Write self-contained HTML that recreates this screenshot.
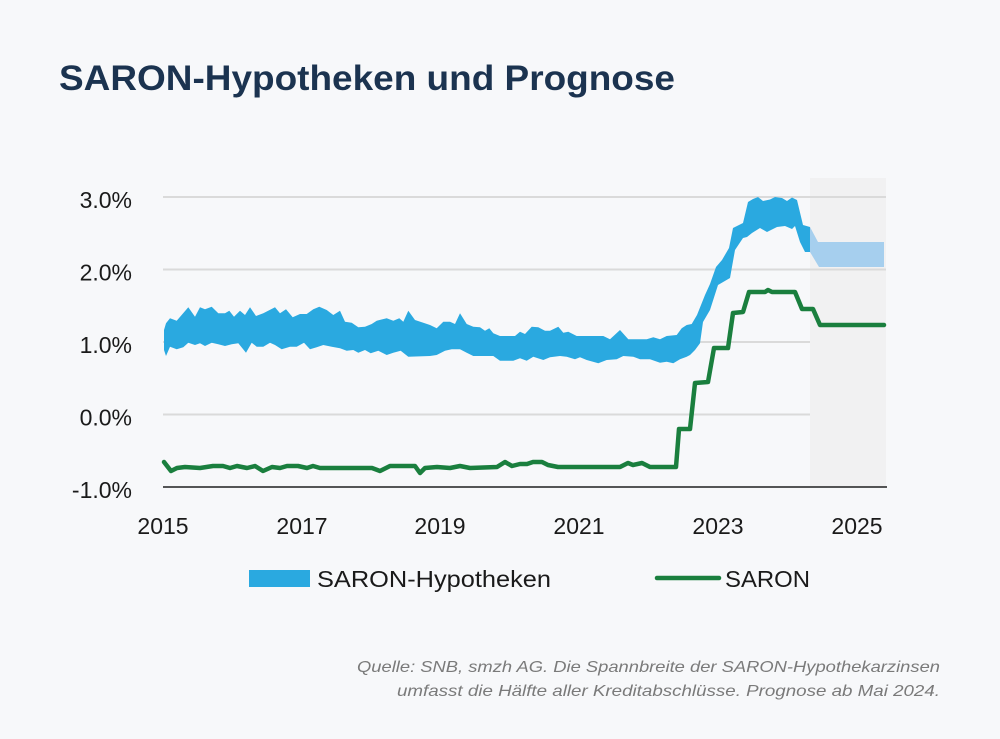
<!DOCTYPE html>
<html><head><meta charset="utf-8"><style>
html,body{margin:0;padding:0;background:#f7f8fa;}
svg{display:block;}
</style></head><body>
<svg width="1000" height="739" viewBox="0 0 1000 739" xmlns="http://www.w3.org/2000/svg">
<rect x="0" y="0" width="1000" height="739" fill="#f7f8fa"/>
<text x="59" y="90" font-family="Liberation Sans, sans-serif" font-size="35" font-weight="bold" fill="#1b3350" textLength="616" lengthAdjust="spacingAndGlyphs">SARON-Hypotheken und Prognose</text>

<!-- forecast shading -->
<rect x="810" y="178" width="76" height="309" fill="#f1f1f2"/>

<!-- gridlines -->
<g stroke="#dadada" stroke-width="2">
<line x1="163" y1="197" x2="886" y2="197"/>
<line x1="163" y1="269.5" x2="886" y2="269.5"/>
<line x1="163" y1="342" x2="810" y2="342"/>
<line x1="163" y1="414.5" x2="810" y2="414.5"/>
</g>

<!-- y labels -->
<g font-family="Liberation Sans, sans-serif" font-size="23" fill="#1a1a1a" text-anchor="end">
<text x="132" y="208">3.0%</text>
<text x="132" y="280.5">2.0%</text>
<text x="132" y="353">1.0%</text>
<text x="132" y="425.5">0.0%</text>
<text x="132" y="498">-1.0%</text>
</g>

<!-- x labels -->
<g font-family="Liberation Sans, sans-serif" font-size="23" fill="#1a1a1a" text-anchor="middle">
<text x="163" y="534">2015</text>
<text x="302" y="534">2017</text>
<text x="440" y="534">2019</text>
<text x="579" y="534">2021</text>
<text x="718" y="534">2023</text>
<text x="857" y="534">2025</text>
</g>

<!-- band -->
<path fill="#2aa9e0" d="M164,330 L166,323.3 L170,318.3 L176.7,320.7 L188.3,307.3 L195,316.7 L200,307.3 L205,309.3 L211.7,306.7 L218.3,313.3 L225,313.3 L229.3,310.7 L234,316.7 L240,310.7 L245,315 L250,307.3 L256,316 L263.3,313.3 L275,307.3 L280,313.3 L286,309.3 L292.7,317.3 L300,314 L306.7,314 L313.3,309.3 L319.3,306.7 L326.7,310 L333.3,315 L340,310.7 L345,321.7 L351.7,322.7 L358.3,327.3 L365,326.7 L371.7,324 L376.7,320.7 L386.7,318.3 L393.3,320.7 L399.3,318.3 L403.3,321.7 L408.3,310.7 L415,320 L423.3,322.7 L430,325 L436.7,328.3 L443.3,321.7 L450,321.7 L455,324 L460,313.3 L466.7,324 L473.3,326.7 L480,327.3 L485,330.7 L489.3,328.3 L493.3,333.3 L500,336 L515,336 L520,331.7 L525,334 L531.7,326.7 L538.3,327.3 L545,330.7 L550,330.7 L558.3,326.7 L563.3,332.7 L568.3,331.7 L576.7,336 L603.3,336 L610,339.3 L620,330 L628.3,339.3 L646.7,339.3 L653.3,337.3 L660,339.3 L666.7,336 L676.7,335 L681.7,328.3 L686.7,325 L691.7,324 L697,315 L705,295 L710,284 L716,267 L722,260 L729,248 L733,228 L743,223 L748,202 L753,199 L758,197 L763,201 L770,199.5 L775,197 L782,198 L787,201 L792,197.5 L797,200 L803,225 L810,227 L810,252 L805,252 L800,242 L795,226 L792,229 L785,226 L777,227 L767,232 L760,228 L752,233 L747,237 L743,238 L735,250 L730,278 L718,285 L710,310 L703,322 L700,343.3 L695,350 L690,355 L686.7,356.7 L680,359.3 L673.3,363.3 L666.7,361.7 L660,362.7 L650,359.3 L640,359.3 L633.3,356.7 L623.3,356 L616.7,359.3 L606.7,360 L598.3,363.3 L586.7,360 L580,357.3 L575,359.3 L566.7,356.7 L560,356 L550,357.3 L543.3,360 L533.3,356.7 L526.7,360.7 L520,358.3 L513.3,360.7 L500,360.7 L493.3,356 L473.3,356 L466.7,352.7 L460,349.3 L451.7,349.3 L445,350.7 L436.7,355 L430,356 L408.3,356.7 L400.7,350.7 L393.3,352.7 L386.7,355 L378.3,350.7 L370.7,353.3 L365,350 L358.3,352.7 L353.3,350 L346.7,350.7 L340,348.3 L331.7,346.7 L323.3,345 L316.7,347.3 L310,349.3 L304,342.7 L296.7,346.7 L290,346.7 L281.7,349.3 L275,345 L270,342.7 L263.3,346.7 L256.7,346.7 L251.7,342.7 L246,352.7 L238.3,343.3 L231.7,344.3 L225,346 L218.3,344.3 L211.7,342.7 L205,346 L200,343.3 L195,345 L188.3,342.7 L183.3,347.3 L176.7,349.3 L170,346.7 L166,356 L164,350 Z"/>

<!-- forecast band -->
<path fill="#a6cfee" d="M810,227 L818,242 L884,242 L884,267 L819,267 L810,252 Z"/>

<!-- SARON line -->
<polyline fill="none" stroke="#1a7f3e" stroke-width="4.5" stroke-linejoin="round" stroke-linecap="round" points="164,462 171,471 177,468 185,467 200,468 213,466 223,466 230,468 237,466 247,468 255,466 263,471 272,467 280,468 287,466 298,466 307,468 313,466 320,468 372,468 380,471 390,466 415,466 420,473 425,468 437,467 450,468 460,466 470,468 497,467 505,462 512,466 520,464 527,464 533,462 542,462 548,465 558,467 620,467 628,463 633,465 642,463 650,467 676,467 679,429 690,429 695,383 708,382 714,348 728,348 733,313 743,312 749,292 765,292 768,290 772,292 795,292 802,309 813,309 820,325 884,325"/>

<!-- axis -->
<line x1="163" y1="487" x2="887" y2="487" stroke="#1f1f1f" stroke-width="1.6"/>

<!-- legend -->
<rect x="249" y="570" width="61" height="17" fill="#2aa9e0"/>
<text x="317" y="587" font-family="Liberation Sans, sans-serif" font-size="23" fill="#1a1a1a" textLength="234" lengthAdjust="spacingAndGlyphs">SARON-Hypotheken</text>
<line x1="657" y1="578" x2="719" y2="578" stroke="#1a7f3e" stroke-width="4.5" stroke-linecap="round"/>
<text x="725" y="587" font-family="Liberation Sans, sans-serif" font-size="23" fill="#1a1a1a" textLength="85" lengthAdjust="spacingAndGlyphs">SARON</text>

<!-- source -->
<g font-family="Liberation Sans, sans-serif" font-size="16" font-style="italic" fill="#7a7a7a" text-anchor="end">
<text x="940" y="672" textLength="583" lengthAdjust="spacingAndGlyphs">Quelle: SNB, smzh AG. Die Spannbreite der SARON-Hypothekarzinsen</text>
<text x="940" y="696" textLength="543" lengthAdjust="spacingAndGlyphs">umfasst die Hälfte aller Kreditabschlüsse. Prognose ab Mai 2024.</text>
</g>
</svg>
</body></html>
